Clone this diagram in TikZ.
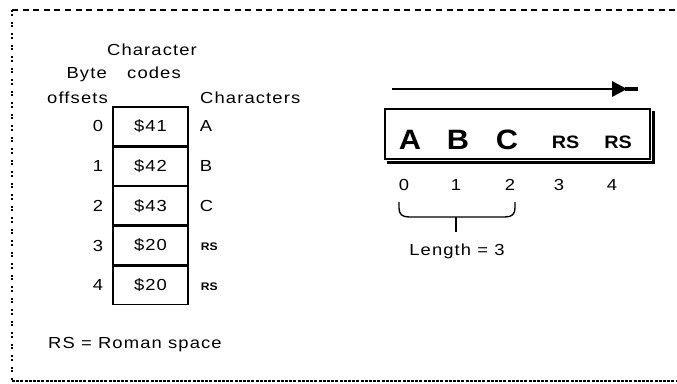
\documentclass[tikz,border=0pt]{standalone}
\usepackage{fontspec}
\setmainfont{Liberation Sans}
\newfontfamily\widefont[FakeStretch=1.15,LetterSpace=7]{Liberation Sans}
\newfontfamily\boxfont[FakeStretch=1.1]{Liberation Sans}
\begin{document}
\begin{tikzpicture}[x=1pt,y=-1pt,
  lbl/.style={font=\fontsize{16}{16}\widefont, inner sep=0pt},
  cell/.style={draw, line width=1.4pt, minimum width=75pt, minimum height=38.4pt, inner sep=0pt, font=\fontsize{16}{16}\widefont},
  big/.style={font=\fontsize{28}{28}\boxfont\bfseries, inner sep=0pt, anchor=base},
  smallrs/.style={font=\fontsize{18}{18}\boxfont\bfseries, inner sep=0pt, anchor=base},
  tinyrs/.style={font=\fontsize{11}{11}\boxfont\bfseries, inner sep=0pt, anchor=base west},
  frame/.style={line width=1.3pt}
]
\useasboundingbox (0,0) rectangle (677,383);
% frame
\coordinate (tl) at (12,10);
\coordinate (tr) at (677,10);
\coordinate (bl) at (12,381);
\coordinate (br) at (677,381);
\draw[frame, dash pattern=on 6pt off 4.6pt] (tl) -- (tr);
\draw[frame, dash pattern=on 2pt off 1.5pt on 2pt off 6pt] (tl) -- (bl);
\draw[frame, dash pattern=on 3pt off 1.2pt] (bl) -- (br);

% headers
\node[lbl, anchor=base] (hcc) at (152,55) {Character};
\node[lbl, anchor=base] (hcodes) at (154,78) {codes};
\node[lbl, anchor=base east] (hbyte) at (107,78) {Byte};
\node[lbl, anchor=base east] (hoff) at (108,103) {offsets};
\node[lbl, anchor=base west] (hchars) at (200,103) {Characters};

% table cells
\node[cell] (c0) at (150.5,126.2) {\$41};
\node[cell, anchor=north] (c1) at (c0.south) {\$42};
\node[cell, anchor=north] (c2) at (c1.south) {\$43};
\node[cell, anchor=north] (c3) at (c2.south) {\$20};
\node[cell, anchor=north] (c4) at (c3.south) {\$20};

% offsets
\foreach \i in {0,...,4} {
  \node[lbl, anchor=east] (o\i) at ([xshift=-9pt]c\i.west) {\i};
}
% characters
\node[lbl, anchor=west] (ch0) at ([xshift=11pt]c0.east) {A};
\node[lbl, anchor=west] (ch1) at ([xshift=11pt]c1.east) {B};
\node[lbl, anchor=west] (ch2) at ([xshift=11pt]c2.east) {C};
\node[tinyrs] (ch3) at ([xshift=12pt,yshift=-5pt]c3.east) {RS};
\node[tinyrs] (ch4) at ([xshift=12pt,yshift=-5pt]c4.east) {RS};

% legend
\node[lbl, anchor=base west] (legend) at (48,348) {RS = Roman space};

% arrow
\coordinate (as) at (392,89);
\coordinate (ah) at (612,89);
\coordinate (atip) at (627,89);
\coordinate (ae) at (638,89);
\draw[line width=1.5pt] (as) -- (ah);
\fill (612,81) -- (atip) -- (612,97) -- cycle;
\draw[line width=4pt] ([xshift=-2pt]atip) -- (ae);

% string box
\node[draw, line width=2pt, minimum width=265pt, minimum height=50pt, inner sep=0pt, anchor=north west] (sbox) at (384,108) {};
\draw[line width=3pt] ([xshift=3pt,yshift=-2.5pt]sbox.south west) -- ([xshift=2.5pt,yshift=-2.5pt]sbox.south east) -- ([xshift=2.5pt,yshift=-3pt]sbox.north east);

\node[big] (lA) at (410,149) {A};
\node[big] (lB) at (458,149) {B};
\node[big] (lC) at (507,149) {C};
\node[smallrs] (lR1) at (565.5,148.5) {RS};
\node[smallrs] (lR2) at (618,148.5) {RS};

% indices
\node[lbl, anchor=base] (n0) at (404,190) {0};
\node[lbl, anchor=base] (n1) at (456,190) {1};
\node[lbl, anchor=base] (n2) at (510,190) {2};
\node[lbl, anchor=base] (n3) at (559,190) {3};
\node[lbl, anchor=base] (n4) at (612,190) {4};

% bracket
\coordinate (bL) at (399,202);
\coordinate (bR) at (515,202);
\coordinate (bM) at (456,217);
\coordinate (bT) at (456,232);
\draw[line width=1.4pt] (bL) -- (399,208) .. controls (399,214) and (402,217) .. (409,217) -- (505,217) .. controls (512,217) and (515,214) .. (515,208) -- (bR);
\draw[line width=1.4pt] (bM) -- (bT);
\node[lbl, anchor=base] (len) at (457,255) {Length = 3};
\end{tikzpicture}
\end{document}
